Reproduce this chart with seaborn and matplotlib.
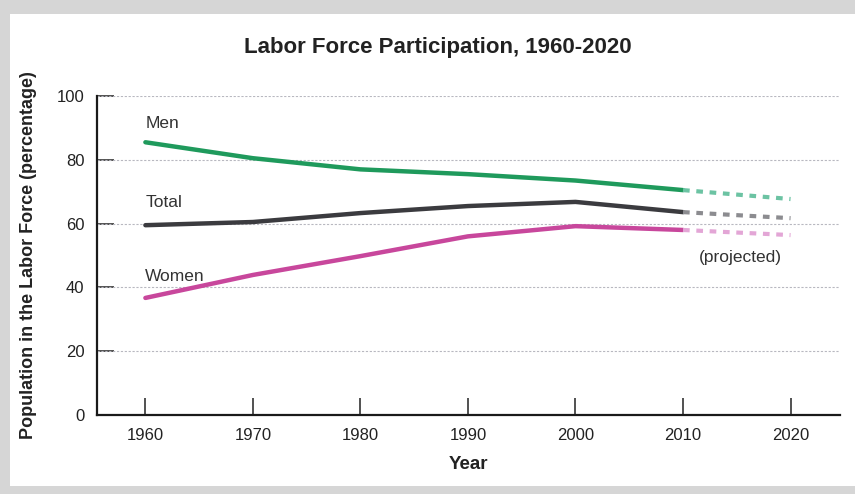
import matplotlib
matplotlib.use("Agg")
import matplotlib.pyplot as plt
import seaborn as sns
import pandas as pd
from matplotlib.patches import Rectangle

years = [1960, 1970, 1980, 1990, 2000, 2010]
men = [85.5, 80.5, 77.0, 75.5, 73.5, 70.5]
total = [59.5, 60.5, 63.3, 65.5, 66.8, 63.6]
women = [36.7, 43.9, 49.8, 56.0, 59.2, 58.0]

proj_years = [2010, 2020]
men_proj = [70.5, 67.7]
total_proj = [63.6, 61.7]
women_proj = [58.0, 56.4]

series = ["Men", "Total", "Women"]
xticks = [1960, 1970, 1980, 1990, 2000, 2010, 2020]
yticks = [0, 20, 40, 60, 80, 100]

sns.set_theme(style="white")
plt.rcParams['font.family'] = ['Liberation Sans', 'DejaVu Sans']

solid_colors = {"Men": "#1f9a5c", "Total": "#3b3b3f", "Women": "#c8479c"}
proj_colors = {"Men": "#6cc3a3", "Total": "#8c8c90", "Women": "#e3a6d6"}

df = pd.DataFrame({
    "Year": years * 3,
    "Value": men + total + women,
    "Series": sum([[s] * len(years) for s in series], []),
})
dfp = pd.DataFrame({
    "Year": proj_years * 3,
    "Value": men_proj + total_proj + women_proj,
    "Series": sum([[s] * len(proj_years) for s in series], []),
})

fig = plt.figure(figsize=(8.55, 4.94), dpi=100)
fig.patch.set_facecolor("#d6d6d6")
fig.add_artist(Rectangle((10 / 855, 8 / 494), 845 / 855, 472 / 494,
                         transform=fig.transFigure, facecolor="white",
                         edgecolor="none", zorder=0))
ax = fig.add_axes([97 / 855, 79 / 494, 743 / 855, 319 / 494])
ax.set_facecolor("none")

for yv in yticks[1:]:
    ax.axhline(yv, color="#b8b8c0", lw=0.8, ls=(0, (2, 1.5)), zorder=1)

sns.lineplot(data=df, x="Year", y="Value", hue="Series", palette=solid_colors,
             linewidth=3.2, legend=False, ax=ax, zorder=3)
sns.lineplot(data=dfp, x="Year", y="Value", hue="Series", palette=proj_colors,
             linewidth=3.0, legend=False, ax=ax, zorder=3)
for line in ax.lines[-3:]:
    line.set_linestyle((0, (1.6, 1.6)))

ax.set_xlim(1955.5, 2024.6)
ax.set_ylim(0, 100)
ax.set_xticks(xticks)
ax.set_yticks(yticks)
ax.tick_params(axis="both", which="major", bottom=True, left=True,
               direction="in", length=12, width=1.1,
               colors="#222222", labelsize=12, pad=9)
ax.tick_params(axis="y", pad=9)
for s in ["top", "right"]:
    ax.spines[s].set_visible(False)
for s in ["left", "bottom"]:
    ax.spines[s].set_color("#1a1a1a")
    ax.spines[s].set_linewidth(1.6)

ax.set_xlabel("Year", fontsize=13.5, fontweight="bold", color="#222222", labelpad=10)
ax.set_ylabel("Population in the Labor Force (percentage)", fontsize=13,
              fontweight="bold", color="#222222", labelpad=14)
fig.text(438 / 855, 1 - 48 / 494, "Labor Force Participation, 1960-2020",
         ha="center", va="center", fontsize=16, fontweight="bold", color="#222222")

ax.text(1960, 91.5, "Men", fontsize=12.5, color="#333333", ha="left", va="center")
ax.text(1960, 66.5, "Total", fontsize=12.5, color="#333333", ha="left", va="center")
ax.text(1960, 43.5, "Women", fontsize=12.5, color="#333333", ha="left", va="center")
ax.text(2015.3, 49.5, "(projected)", fontsize=12.5, color="#333333", ha="center", va="center")

fig.savefig("out.png", dpi=100)
